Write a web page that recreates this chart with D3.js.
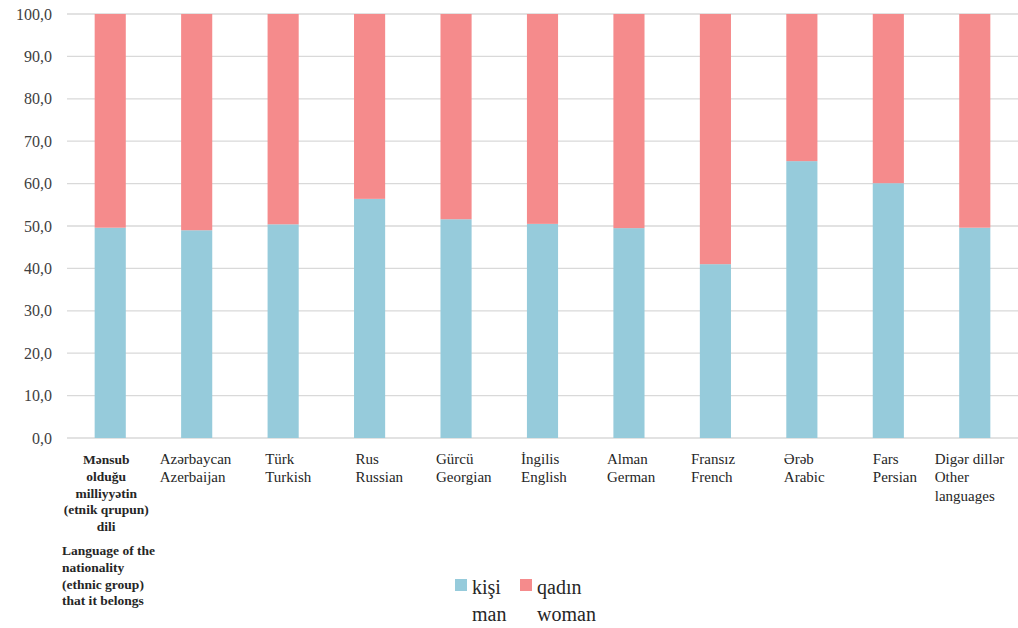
<!DOCTYPE html>
<html><head><meta charset="utf-8">
<script src="https://cdn.jsdelivr.net/npm/d3@7"></script>
</head><body style="margin:0;background:#fff"><svg id="c" width="1018" height="628"></svg>
<script>
const categories = [
  ["Mənsub","olduğu","milliyyətin","(etnik qrupun)","dili"],
  ["Azərbaycan","Azerbaijan"],
  ["Türk","Turkish"],
  ["Rus","Russian"],
  ["Gürcü","Georgian"],
  ["İngilis","English"],
  ["Alman","German"],
  ["Fransız","French"],
  ["Ərəb","Arabic"],
  ["Fars","Persian"],
  ["Digər dillər","Other","languages"]
];
const firstCategoryNote = ["Language of the","nationality","(ethnic group)","that it belongs"];
const manValues = [49.6, 49.0, 50.4, 56.4, 51.6, 50.5, 49.5, 41.0, 65.3, 60.1, 49.6];
const womanValues = [50.4, 51.0, 49.6, 43.6, 48.4, 49.5, 50.5, 59.0, 34.7, 39.9, 50.4];
const yTicks = [0,10,20,30,40,50,60,70,80,90,100];
const seriesNames = [["kişi","man"],["qadın","woman"]];

// layout
const FONT = "'Liberation Serif'";
const labelOffsets = [0,-37,-18,-14,-20,-21.5,-22,-24.5,-18,-15.5,-40];
const colors = ["#96cbdb","#f58b8c"];
const svg = d3.select("#c");
const x = d3.scaleBand().domain(d3.range(categories.length)).range([67,1018]).paddingInner(0.64).paddingOuter(0.32);
const y = d3.scaleLinear().domain([0,100]).range([438,14]);

// grid
svg.append("g").selectAll("line").data(yTicks).join("line")
  .attr("x1",67).attr("x2",1018).attr("y1",d=>y(d)).attr("y2",d=>y(d))
  .attr("stroke","#d9d9d9").attr("stroke-width",1.3);

// y axis labels
const yAxis = d3.axisLeft(y).tickValues(yTicks).tickSize(0).tickPadding(0)
  .tickFormat(d=>d3.format(".1f")(d).replace(".",","));
const ya = svg.append("g").attr("transform","translate(52,0)").call(yAxis);
ya.attr("font-family", FONT);
ya.select(".domain").remove();
ya.selectAll("text").style("font-family",FONT).style("font-size","16px").attr("fill","#404040");

// stacked bars
const stackData = manValues.map((m,i)=>({i, man:m, woman:womanValues[i]}));
const stack = d3.stack().keys(["man","woman"])(stackData);
svg.append("g").selectAll("g").data(stack).join("g").attr("fill",(d,i)=>colors[i])
  .selectAll("rect").data(d=>d).join("rect")
  .attr("x",d=>x(d.data.i)).attr("width",x.bandwidth())
  .attr("y",d=>y(d[1])).attr("height",d=>y(d[0])-y(d[1]));

// category labels
const cx = i => x(i)+x.bandwidth()/2;
categories.forEach((lines,i)=>{
  if(i===0){
    const t = svg.append("text").style("font-family",FONT).style("font-size","13.5px").style("font-weight","bold").attr("fill","#262626").attr("text-anchor","middle");
    lines.forEach((l,k)=>t.append("tspan").attr("x",cx(i)-4).attr("y",464+k*16.8).text(l));
    const t2 = svg.append("text").style("font-family",FONT).style("font-size","13.5px").style("font-weight","bold").attr("fill","#262626");
    firstCategoryNote.forEach((l,k)=>t2.append("tspan").attr("x",62).attr("y",555+k*16.8).text(l));
  } else {
    const t = svg.append("text").style("font-family",FONT).style("font-size","15px").attr("fill","#262626");
    lines.forEach((l,k)=>t.append("tspan").attr("x",cx(i)+labelOffsets[i]).attr("y",463.5+k*18.5).text(l));
  }
});

// legend
const lg = svg.append("g");
const legendX = [455,520];
seriesNames.forEach((s,i)=>{
  lg.append("rect").attr("x",legendX[i]).attr("y",579).attr("width",12).attr("height",12).attr("fill",colors[i]);
  const t = lg.append("text").style("font-family",FONT).style("font-size","20px").attr("fill","#262626");
  t.append("tspan").attr("x",legendX[i]+17).attr("y",594).text(s[0]);
  t.append("tspan").attr("x",legendX[i]+17).attr("y",621).text(s[1]);
});
</script></body></html>
